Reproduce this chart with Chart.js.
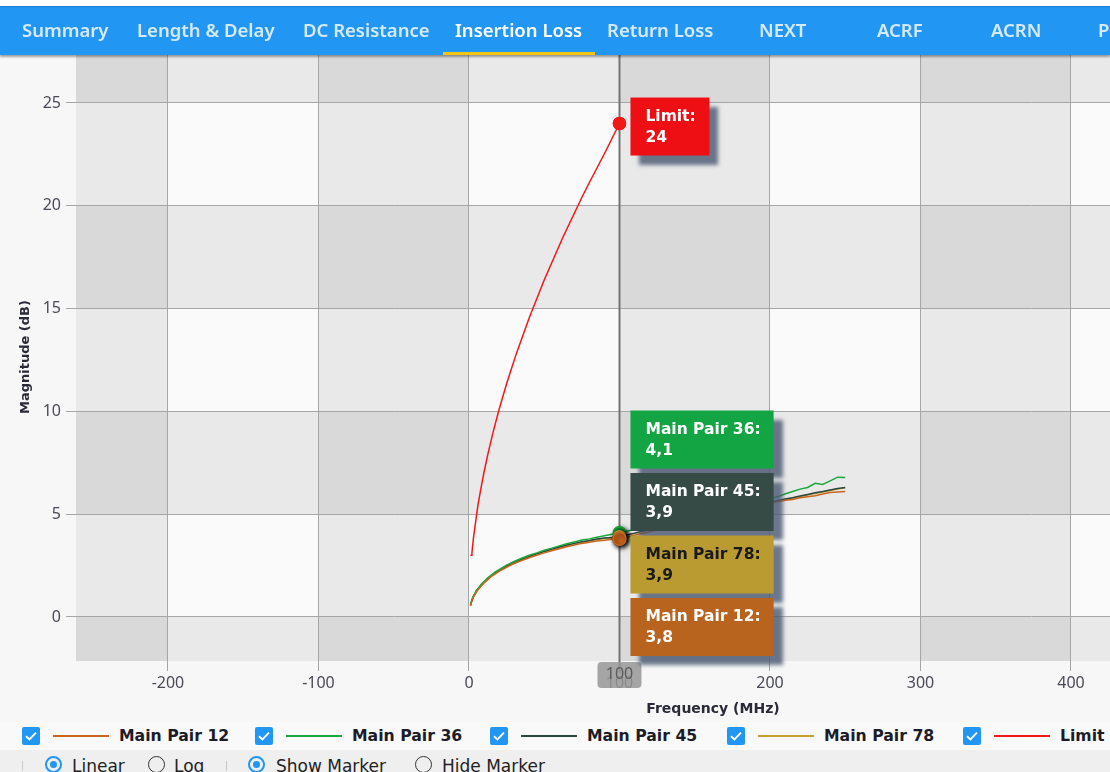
<!DOCTYPE html>
<html>
<head>
<meta charset="utf-8">
<title>Insertion Loss</title>
<script src="https://cdn.jsdelivr.net/npm/chart.js@4.4.1/dist/chart.umd.min.js"></script>
<style>
  html, body { margin: 0; padding: 0; }
  body {
    width: 1110px; height: 772px; overflow: hidden; position: relative;
    background: #f7f7f7; font-family: "Noto Sans", sans-serif;
  }
  #topline { position: absolute; left: 0; top: 0; width: 1110px; height: 6px; background: #ffffff; z-index: 4; }
  #tabs {
    position: absolute; left: 0; top: 6px; width: 1110px; height: 48px;
    background: #2196f3; border-top: 1px solid #1a7ed6;
    box-shadow: 0 2px 2px rgba(0,0,0,0.35); z-index: 3; overflow: hidden;
  }
  .tab {
    position: absolute; top: -2px; line-height: 49px; white-space: nowrap;
    font-family: "Noto Sans", sans-serif; font-weight: 600; font-size: 18.5px;
    color: #d7eafc;
  }
  .tab.active { color: #ffffff; }
  #underline { position: absolute; top: 45px; height: 3px; background: #f2c418; }
  #plotWrap { position: absolute; left: 0; top: 53px; width: 1360px; height: 668px; z-index: 1; }
  #legend { position: absolute; left: 0; top: 722px; width: 1110px; height: 28px; background: #f9f9f9; z-index: 2; }
  #opts { position: absolute; left: 0; top: 750px; width: 1110px; height: 22px; background: #efefef; z-index: 2; }
  .cb {
    position: absolute; width: 18px; height: 18px; border-radius: 2px; background: #2196f3;
  }
  .cb svg { position: absolute; left: 0; top: 0; }
  .lgLine { position: absolute; height: 2px; width: 56px; }
  .lgText {
    position: absolute; white-space: nowrap; font-family: "DejaVu Sans", sans-serif;
    font-weight: bold; font-size: 15.7px; color: #1c1c28; line-height: 20px;
  }
  .sep { position: absolute; width: 1px; height: 10px; background: #c8c8c8; top: 11px; }
  .radio {
    position: absolute; width: 17px; height: 17px; border-radius: 50%;
    box-sizing: border-box; border: 1.5px solid #333; top: 6px;
  }
  .radio.on { border: 2px solid #2196f3; }
  .radio.on::after {
    content: ""; position: absolute; left: 3px; top: 3px; width: 7px; height: 7px;
    border-radius: 50%; background: #2196f3;
  }
  .optText {
    position: absolute; top: 5px; white-space: nowrap; font-family: "DejaVu Sans", sans-serif;
    font-size: 17px; color: #222; line-height: 22px;
  }
</style>
</head>
<body>
<div id="topline"></div>
<div id="tabs"><div id="underline"></div></div>
<div id="plotWrap"><canvas id="chart" width="1360" height="668"></canvas></div>
<div id="legend"></div>
<div id="opts"></div>

<script>
// ---- tab strip ----
const tabLabels = ['Summary', 'Length & Delay', 'DC Resistance', 'Insertion Loss', 'Return Loss', 'NEXT', 'ACRF', 'ACRN', 'PSNEXT'];
const tabLeft = [22, 137, 303, 455, 607, 759, 877, 991, 1098];
const activeTab = 3;

// ---- series ----
const seriesNames = ['Main Pair 12', 'Main Pair 36', 'Main Pair 45', 'Main Pair 78', 'Limit'];
const seriesColors = ['#c8651e', '#19a83c', '#2c4640', '#c4a12e', '#f21818'];
const boxColors = ['#b9641e', '#13a543', '#374b46', '#b99b32', '#ee0f14'];
const boxTextColors = ['#ffffff', '#ffffff', '#ffffff', '#1a1a1a', '#ffffff'];

// measured insertion loss (dB) against frequency (MHz)
const measFreq = [1, 2, 3, 4, 5, 6, 8, 10, 12.5, 15, 17.5, 20,
  25, 30, 35, 40, 45, 50, 55, 60, 65, 70, 75, 80, 85, 90, 95, 100,
  110, 120, 130, 140, 150, 160, 170, 180, 190, 200,
  205, 210, 215, 220, 225, 230, 235, 240, 245, 250];
const pair12 = [0.55, 0.8, 0.98, 1.1, 1.22, 1.32, 1.5, 1.65, 1.82, 1.98, 2.1, 2.22,
  2.42, 2.6, 2.75, 2.88, 3.0, 3.12, 3.22, 3.32, 3.42, 3.5, 3.58, 3.63, 3.7, 3.73, 3.78, 3.8,
  3.98, 4.15, 4.32, 4.5, 4.65, 4.8, 4.95, 5.1, 5.25, 5.55,
  5.6, 5.68, 5.72, 5.8, 5.85, 5.9, 5.98, 6.05, 6.08, 6.1];
const pair36 = [0.6, 0.85, 1.03, 1.16, 1.3, 1.38, 1.58, 1.72, 1.9, 2.05, 2.2, 2.3,
  2.52, 2.7, 2.86, 3.0, 3.12, 3.25, 3.35, 3.46, 3.56, 3.65, 3.74, 3.8, 3.88, 3.95, 4.02, 4.1,
  4.26, 4.45, 4.62, 4.8, 4.98, 5.14, 5.3, 5.48, 5.62, 5.76,
  5.85, 5.98, 6.1, 6.22, 6.3, 6.5, 6.45, 6.62, 6.8, 6.78];
const pair45 = [0.57, 0.82, 1.0, 1.13, 1.26, 1.35, 1.54, 1.69, 1.86, 2.02, 2.15, 2.27,
  2.48, 2.66, 2.81, 2.95, 3.07, 3.19, 3.3, 3.4, 3.5, 3.58, 3.66, 3.72, 3.79, 3.84, 3.87, 3.9,
  4.08, 4.26, 4.44, 4.61, 4.77, 4.93, 5.09, 5.24, 5.4, 5.58,
  5.66, 5.74, 5.8, 5.88, 5.96, 6.04, 6.1, 6.18, 6.25, 6.3];
const pair78 = [0.56, 0.81, 0.99, 1.12, 1.25, 1.34, 1.52, 1.67, 1.84, 2.0, 2.13, 2.25,
  2.46, 2.64, 2.79, 2.93, 3.05, 3.17, 3.27, 3.37, 3.47, 3.55, 3.63, 3.7, 3.77, 3.82, 3.86, 3.9,
  4.06, 4.24, 4.41, 4.58, 4.74, 4.9, 5.05, 5.2, 5.36, 5.6,
  5.64, 5.72, 5.78, 5.85, 5.93, 6.0, 6.08, 6.15, 6.22, 6.28];

// limit line (dB)
const limitFreq = [1, 1.5, 2, 3, 4, 6, 8, 10, 12.5, 16, 20, 25, 31.25, 40, 50, 62.5, 75, 80, 90, 100];
const limitDb = [3.0, 3.0, 3.15, 3.85, 4.4, 5.45, 6.28, 7.04, 7.9, 8.98, 10.09, 11.34, 12.76, 14.54, 16.39, 18.48, 20.4, 21.13, 22.53, 24.0];

// axes
const xTickValues = [-200, -100, 0, 100, 200, 300, 400, 500];
const yTickValues = [0, 5, 10, 15, 20, 25];
const X_MIN = -261.1, X_MAX = 585.4;
const Y_MIN = -2.14, Y_MAX = 27.43;
const cursorFreq = 100;

// ---- tabs ----
const tabs = document.getElementById('tabs');
tabLabels.forEach((t, i) => {
  const d = document.createElement('div');
  d.className = 'tab' + (i === activeTab ? ' active' : '');
  d.style.left = tabLeft[i] + 'px';
  d.textContent = t;
  tabs.appendChild(d);
});
const ul = document.getElementById('underline');
ul.style.left = '443px';
ul.style.width = '152px';

// ---- legend ----
const legend = document.getElementById('legend');
const legendLeft = [22, 255, 490, 727, 963];
const checkSvg = '<svg width="18" height="18" viewBox="0 0 18 18"><path d="M4 9.2 L7.4 12.4 L14 5.6" fill="none" stroke="#fff" stroke-width="1.9"/></svg>';
seriesNames.forEach((name, i) => {
  const x = legendLeft[i];
  const cb = document.createElement('div');
  cb.className = 'cb'; cb.style.left = x + 'px'; cb.style.top = '5px';
  cb.innerHTML = checkSvg;
  legend.appendChild(cb);
  const ln = document.createElement('div');
  ln.className = 'lgLine'; ln.style.left = (x + 31) + 'px'; ln.style.top = '13px';
  ln.style.background = seriesColors[i];
  legend.appendChild(ln);
  const tx = document.createElement('div');
  tx.className = 'lgText'; tx.style.left = (x + 97) + 'px'; tx.style.top = '4px';
  tx.textContent = name;
  legend.appendChild(tx);
});

// ---- scale / marker options row ----
const opts = document.getElementById('opts');
const optItems = [
  { sep: 22 },
  { radio: 45, on: true, text: 'Linear', tx: 72 },
  { radio: 148, on: false, text: 'Log', tx: 174 },
  { sep: 226 },
  { radio: 248, on: true, text: 'Show Marker', tx: 276 },
  { radio: 415, on: false, text: 'Hide Marker', tx: 442 }
];
optItems.forEach(o => {
  if (o.sep !== undefined) {
    const s = document.createElement('div'); s.className = 'sep'; s.style.left = o.sep + 'px'; opts.appendChild(s);
    return;
  }
  const r = document.createElement('div'); r.className = 'radio' + (o.on ? ' on' : ''); r.style.left = o.radio + 'px'; opts.appendChild(r);
  const t = document.createElement('div'); t.className = 'optText'; t.style.left = o.tx + 'px'; t.textContent = o.text; opts.appendChild(t);
});

// ---- chart ----
const measured = [pair12, pair36, pair45, pair78];
const datasets = measured.map((vals, i) => ({
  label: seriesNames[i],
  data: measFreq.map((f, k) => ({ x: f, y: vals[k] })),
  borderColor: seriesColors[i],
  backgroundColor: seriesColors[i],
  pointBackgroundColor: seriesColors[i],
  borderWidth: 1.5
}));
datasets.push({
  label: seriesNames[4],
  data: limitFreq.map((f, k) => ({ x: f, y: limitDb[k] })),
  borderColor: seriesColors[4],
  backgroundColor: seriesColors[4],
  pointBackgroundColor: seriesColors[4],
  borderWidth: 1.5
});

const fmt = v => String(Math.round(v * 10) / 10).replace('.', ',');

const bandPlugin = {
  id: 'bands',
  beforeDraw(chart) {
    const { ctx, chartArea: a, scales: { x, y } } = chart;
    ctx.save();
    ctx.beginPath(); ctx.rect(a.left, a.top, a.width, a.height); ctx.clip();
    ctx.fillStyle = '#fafafa';
    ctx.fillRect(a.left, a.top, a.width, a.height);
    ctx.fillStyle = 'rgba(0,0,0,0.066)';
    const xb = [x.min, ...xTickValues.filter(v => v > x.min && v < x.max), x.max];
    for (let i = 0; i < xb.length - 1; i += 2) {
      const p0 = x.getPixelForValue(xb[i]), p1 = x.getPixelForValue(xb[i + 1]);
      ctx.fillRect(p0, a.top, p1 - p0, a.height);
    }
    const yb = [y.min, ...yTickValues.filter(v => v > y.min && v < y.max), y.max];
    for (let i = 0; i < yb.length - 1; i += 2) {
      const p0 = y.getPixelForValue(yb[i]), p1 = y.getPixelForValue(yb[i + 1]);
      ctx.fillRect(a.left, p1, a.width, p0 - p1);
    }
    ctx.restore();
  },
  beforeDatasetsDraw(chart) {
    const { ctx, chartArea: a, scales: { x } } = chart;
    const px = Math.round(x.getPixelForValue(cursorFreq)) + 0.5;
    ctx.save();
    ctx.strokeStyle = '#747474';
    ctx.lineWidth = 2;
    ctx.beginPath(); ctx.moveTo(px, a.top); ctx.lineTo(px, a.bottom + 12); ctx.stroke();
    ctx.restore();
  },
  afterDatasetsDraw(chart) {
    const { ctx } = chart;
    [4, 1, 2, 3, 0].forEach(di => {
      const meta = chart.getDatasetMeta(di);
      const data = chart.data.datasets[di].data;
      const idx = data.findIndex(p => p.x === cursorFreq);
      if (idx < 0) return;
      ctx.save();
      if (di !== 4) {
        ctx.shadowColor = 'rgba(0,0,0,0.75)';
        ctx.shadowBlur = 5; ctx.shadowOffsetX = 2; ctx.shadowOffsetY = 2;
      }
      meta.data[idx].draw(ctx, chart.chartArea);
      ctx.restore();
    });
  },
  afterDraw(chart) {
    const { ctx, chartArea: a, scales: { x, y } } = chart;
    const px = x.getPixelForValue(cursorFreq);

    // cursor value badge on the x axis
    ctx.save();
    ctx.fillStyle = 'rgba(150,150,150,0.85)';
    ctx.beginPath(); ctx.roundRect(px - 22, a.bottom + 1, 44, 26, 4); ctx.fill();
    ctx.fillStyle = '#5a5a5a';
    ctx.font = '16px "Noto Sans"';
    ctx.textAlign = 'center'; ctx.textBaseline = 'middle';
    ctx.fillText(String(cursorFreq), px, a.bottom + 13);
    ctx.restore();

    const font = 'bold 15.5px "DejaVu Sans"';
    const drawBox = (di, value, bx, by, w, h) => {
      ctx.save();
      ctx.shadowColor = 'rgba(72,86,112,0.8)';
      ctx.shadowBlur = 4; ctx.shadowOffsetX = 9; ctx.shadowOffsetY = 9;
      ctx.fillStyle = boxColors[di];
      ctx.fillRect(bx, by, w, h);
      ctx.restore();
      ctx.save();
      ctx.font = font; ctx.fillStyle = boxTextColors[di];
      ctx.textAlign = 'left'; ctx.textBaseline = 'middle';
      ctx.fillText(seriesNames[di] + ':', bx + 15, by + 19);
      ctx.fillText(fmt(value), bx + 15, by + 40);
      ctx.restore();
    };
    const boxW = di => {
      ctx.save(); ctx.font = font;
      const w = Math.max(ctx.measureText(seriesNames[di] + ':').width + 28, 79);
      ctx.restore();
      return w;
    };

    // limit readout beside its marker
    const limIdx = limitFreq.indexOf(cursorFreq);
    if (limIdx >= 0) {
      drawBox(4, limitDb[limIdx], px + 11, y.getPixelForValue(limitDb[limIdx]) - 26, boxW(4), 58);
    }

    // measured readouts stacked from the bottom of the plot
    const k = measFreq.indexOf(cursorFreq);
    if (k >= 0) {
      const order = [0, 1, 2, 3].sort((p, q) => measured[q][k] - measured[p][k]);
      const h = 58, gap = 4.5;
      const top0 = a.bottom - 5 - order.length * h - (order.length - 1) * gap;
      const w = Math.max(...order.map(boxW));
      order.forEach((di, j) => drawBox(di, measured[di][k], px + 11, top0 + j * (h + gap), w, h));
    }
  }
};

new Chart(document.getElementById('chart'), {
  type: 'line',
  data: { datasets },
  plugins: [bandPlugin],
  options: {
    responsive: false,
    animation: false,
    layout: { autoPadding: false, padding: { left: 0, top: 0, right: 10, bottom: 0 } },
    elements: {
      line: { tension: 0 },
      point: { borderWidth: 0, hoverRadius: 0 }
    },
    datasets: {
      line: {
        pointRadius: c => (c.raw && c.raw.x === cursorFreq) ? (c.datasetIndex === 0 ? 6.5 : 6) : 0
      }
    },
    plugins: { legend: { display: false }, tooltip: { enabled: false } },
    events: [],
    scales: {
      x: {
        type: 'linear', position: 'bottom', min: X_MIN, max: X_MAX,
        afterBuildTicks: s => { s.ticks = xTickValues.map(v => ({ value: v })); },
        afterFit: s => { s.height = 60; s.paddingLeft = 0; s.paddingRight = 0; },
        grid: { color: '#a6a6a6', lineWidth: 1, drawTicks: true, tickLength: 10, tickColor: '#a6a6a6' },
        border: { display: false },
        ticks: { color: '#4a4a58', font: { family: '"Noto Sans"', size: 16 }, padding: 3, maxRotation: 0, autoSkip: false },
        title: {
          display: true, text: 'Frequency (MHz)', color: '#2a2a38',
          font: { family: '"DejaVu Sans"', size: 14, weight: 'bold' }, padding: { top: 4, bottom: 3 }
        }
      },
      y: {
        type: 'linear', position: 'left', min: Y_MIN, max: Y_MAX,
        afterBuildTicks: s => { s.ticks = yTickValues.map(v => ({ value: v })); },
        afterFit: s => { s.width = 76; s.paddingTop = 0; s.paddingBottom = 0; },
        grid: { color: '#a6a6a6', lineWidth: 1, drawTicks: true, tickLength: 10, tickColor: '#a6a6a6' },
        border: { display: false },
        ticks: { color: '#4a4a58', font: { family: '"Noto Sans"', size: 16 }, padding: 5 },
        title: {
          display: true, text: 'Magnitude (dB)', color: '#2a2a38',
          font: { family: '"DejaVu Sans"', size: 13, weight: 'bold' }, padding: { top: 18, bottom: 0 }
        }
      }
    }
  }
});
</script>
</body>
</html>
